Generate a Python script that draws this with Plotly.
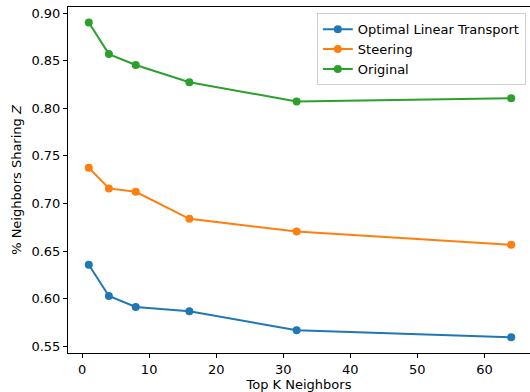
import plotly.graph_objects as go

k_values = [1, 4, 8, 16, 32, 64]
optimal_linear_transport = [0.6355, 0.6028, 0.5912, 0.5867, 0.5667, 0.5593]
steering = [0.7376, 0.7158, 0.7123, 0.6839, 0.6705, 0.6565]
original = [0.8902, 0.8570, 0.8456, 0.8274, 0.8072, 0.8106]

series_names = ["Optimal Linear Transport", "Steering", "Original"]
series_values = [optimal_linear_transport, steering, original]
colors = ["#1f77b4", "#ff7f0e", "#2ca02c"]

x_ticks = [0, 10, 20, 30, 40, 50, 60]
y_ticks = [0.55, 0.60, 0.65, 0.70, 0.75, 0.80, 0.85, 0.90]

fig = go.Figure()
for name, vals, c in zip(series_names, series_values, colors):
    fig.add_trace(go.Scatter(
        x=k_values, y=vals, name=name, mode="lines+markers",
        line=dict(color=c, width=2),
        marker=dict(color=c, size=8),
    ))

font = dict(family="DejaVu Sans", size=13, color="black")
fig.update_layout(
    width=530, height=392,
    margin=dict(l=68, r=0, t=7, b=39),
    paper_bgcolor="white", plot_bgcolor="white",
    font=font,
    showlegend=True,
    legend=dict(
        x=0.991, y=0.982, xanchor="right", yanchor="top",
        bgcolor="white", bordercolor="#d0d0d0", borderwidth=1,
        font=font,
        tracegroupgap=0, itemwidth=30,
    ),
    xaxis=dict(
        range=[-2.1, 66.8], tickvals=x_ticks, ticktext=[str(v) for v in x_ticks],
        showgrid=False, zeroline=False, showline=True, linecolor="black", linewidth=1,
        mirror=True, ticks="outside", ticklen=4, tickcolor="black", automargin=False,
        title=dict(text="Top K Neighbors", standoff=0, font=font),
    ),
    yaxis=dict(
        range=[0.5428, 0.9065], tickvals=y_ticks, ticktext=[f"{v:.2f}" for v in y_ticks],
        showgrid=False, zeroline=False, showline=True, linecolor="black", linewidth=1,
        ticks="outside", ticklen=4, tickcolor="black", automargin=False,
        title=dict(text="% Neighbors Sharing <i>Z</i>", standoff=6, font=font),
    ),
)

fig.write_html("out.html", config={"displayModeBar": False},
               post_script="document.body.style.margin='0px';")
